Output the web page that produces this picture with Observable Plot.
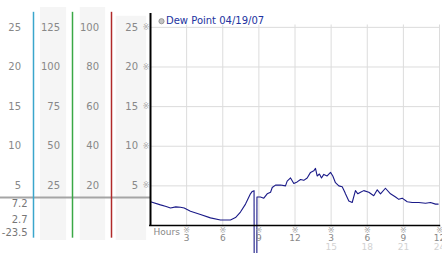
<!DOCTYPE html>
<html>
<head>
<meta charset="utf-8">
<script src="https://cdn.jsdelivr.net/npm/d3@7"></script>
<script src="https://cdn.jsdelivr.net/npm/@observablehq/plot@0.6"></script>
<style>
  html, body { margin: 0; padding: 0; background: white; overflow: hidden; }
  #wrap { position: relative; width: 442px; height: 253px; }
  #wrap > svg { position: absolute; left: 0; top: 0; }
</style>
</head>
<body>
<div id="wrap"></div>
<script>
// ---- data ----
const hours = [0.0, 0.83, 1.3, 1.66, 2.1, 2.49, 2.8, 3.32, 4.15, 4.98, 5.81, 6.64, 7.06, 7.47, 7.89, 8.30, 8.45, 8.6, 8.63, 8.81, 8.84, 9.13, 9.41, 9.69, 9.97, 10.11, 10.38, 10.80, 11.21, 11.35, 11.63, 11.90, 12.18, 12.46, 12.73, 13.01, 13.29, 13.56, 13.70, 13.84, 14.03, 14.20, 14.39, 14.67, 14.95, 15.14, 15.36, 15.64, 15.92, 16.14, 16.19, 16.47, 16.75, 17.02, 17.22, 17.44, 17.71, 18.13, 18.54, 18.83, 19.10, 19.51, 19.93, 20.35, 20.62, 20.90, 21.32, 21.73, 22.28, 22.84, 23.25, 23.67, 23.89];
const dewPoint = [3.0, 2.6, 2.4, 2.2, 2.35, 2.3, 2.2, 1.8, 1.4, 0.96, 0.7, 0.7, 1.0, 1.7, 2.7, 4.0, 4.3, 4.4, -23.5, -23.5, 3.6, 3.6, 3.45, 4.0, 4.2, 4.8, 5.1, 5.1, 5.0, 5.6, 6.0, 5.3, 5.5, 5.8, 5.7, 6.0, 6.7, 6.9, 7.2, 6.25, 6.5, 6.0, 6.45, 6.25, 6.7, 6.25, 5.4, 5.0, 4.9, 4.2, 4.0, 3.1, 2.9, 4.4, 4.0, 4.2, 4.4, 4.2, 3.75, 4.5, 4.0, 4.7, 4.0, 3.6, 3.3, 3.45, 3.0, 2.9, 2.9, 2.8, 2.9, 2.7, 2.7];
const yTicks = [5, 10, 15, 20, 25];
const col1Labels = ["5", "10", "15", "20", "25"];
const col2Labels = ["25", "50", "75", "100", "125"];
const col3Labels = ["20", "40", "60", "80", "100"];
const col4Labels = ["5", "10", "15", "20", "25"];
const statLabels = ["7.2", "2.7", "-23.5"];
const xTicks = [3, 6, 9, 12, 15, 18, 21, 24];
const xTickLabels = ["3", "6", "9", "12", "3", "6", "9", "12"];
const xTickLabels2 = ["", "", "", "", "15", "18", "21", "24"];
const title = "Dew Point 04/19/07";
const xAxisLabel = "Hours";

const dew = hours.map((h, i) => ({hour: h, value: dewPoint[i]}));

// ---- shared layout ----
const font = "DejaVu Sans, Verdana, sans-serif";
const yScale = {domain: [0, 26.75], range: [225, 13]};
const statY = [2.78, 0.76, -0.88];

// ---- left panel (scale columns) ----
const cols = [col1Labels, col2Labels, col3Labels, col4Labels];
const labelRows = cols.flatMap((labels, c) => labels.map((t, i) => ({c, y: yTicks[i], t})));
const bands = [
  {c: 1, x1: 1.18, x2: 1.85, y1: -1.9, y2: 27.5},
  {c: 2, x1: 2.2, x2: 2.85, y1: -1.9, y2: 27.5},
  {c: 3, x1: 3.12, x2: 3.9, y1: -1.9, y2: 26.4}
];
const colLines = [
  {x: 1, stroke: "#3aa6cc"},
  {x: 2, stroke: "#3aa845"},
  {x: 3, stroke: "#b02a2a"}
];

const left = Plot.plot({
  width: 150, height: 253,
  margin: 0,
  x: {domain: [0, 4], range: [-6, 150], axis: null},
  y: {...yScale, axis: null},
  style: {fontFamily: font, background: "white"},
  marks: [
    Plot.rect(bands, {x1: "x1", x2: "x2", y1: "y1", y2: "y2", fill: "#f5f5f5"}),
    Plot.ruleY([3.53], {x1: 0.154, x2: 4, stroke: "#a5a5a5", strokeWidth: 2}),
    Plot.ruleX(colLines, {x: "x", y1: -1.6, y2: 26.9, stroke: "stroke", strokeWidth: 1.5}),
    Plot.text(labelRows, {x: d => d.c + 0.68, y: "y", text: "t", textAnchor: "end", fill: "#888", fontSize: 10}),
    Plot.text(statLabels, {x: 0.85, y: (d, i) => statY[i], text: d => d, textAnchor: "end", fill: "#777", fontSize: 10})
  ]
});

// ---- main chart ----
const main = Plot.plot({
  width: 442, height: 253,
  marginLeft: 150, marginRight: 3, marginTop: 13, marginBottom: 28,
  x: {domain: [0, 24], axis: null},
  y: {...yScale, axis: null},
  style: {fontFamily: font, background: "transparent", overflow: "visible"},
  marks: [
    Plot.ruleY(yTicks, {x1: 0, x2: 24, stroke: "#dcdcdc"}),
    Plot.ruleX(xTicks, {y1: 0, y2: 25.3, stroke: "#dcdcdc"}),
    Plot.line(dew, {x: "hour", y: "value", stroke: "#1a1a88", strokeWidth: 1.1, clip: false}),
    Plot.ruleX([0], {y1: 0, y2: 26.75, stroke: "black", strokeWidth: 2}),
    Plot.ruleY([0], {x1: -0.08, x2: 24.1, stroke: "black", strokeWidth: 1.6}),
    Plot.text(yTicks, {x: 0, y: d => d, text: () => "※", dx: -4.5, fill: "#aaa", fontSize: 8}),
    Plot.text(xTicks, {x: d => d, y: 0, text: () => "※", dy: 4.5, fill: "#aaa", fontSize: 8}),
    Plot.text(xTicks, {x: d => d, y: 0, text: (d, i) => xTickLabels[i], dy: 13, fill: "#888", fontSize: 9}),
    Plot.text(xTicks, {x: d => d, y: 0, text: (d, i) => xTickLabels2[i], dy: 22, fill: "#d2d2d2", fontSize: 9}),
    Plot.text([xAxisLabel], {x: 0, y: 0, text: d => d, dx: 3, dy: 6.5, textAnchor: "start", fill: "#888", fontSize: 9}),
    Plot.dot([title], {frameAnchor: "top-left", dx: 11, dy: 7.7, r: 2.6, fill: "#c4c4c4", stroke: "#8a8a8a", strokeWidth: 0.8}),
    Plot.text([title], {frameAnchor: "top-left", text: d => d, dx: 15.5, dy: 7.7, textAnchor: "start", lineAnchor: "middle", fill: "#2233a0", fontSize: 10})
  ]
});

const wrap = document.getElementById("wrap");
wrap.appendChild(left);
wrap.appendChild(main);
</script>
</body>
</html>
